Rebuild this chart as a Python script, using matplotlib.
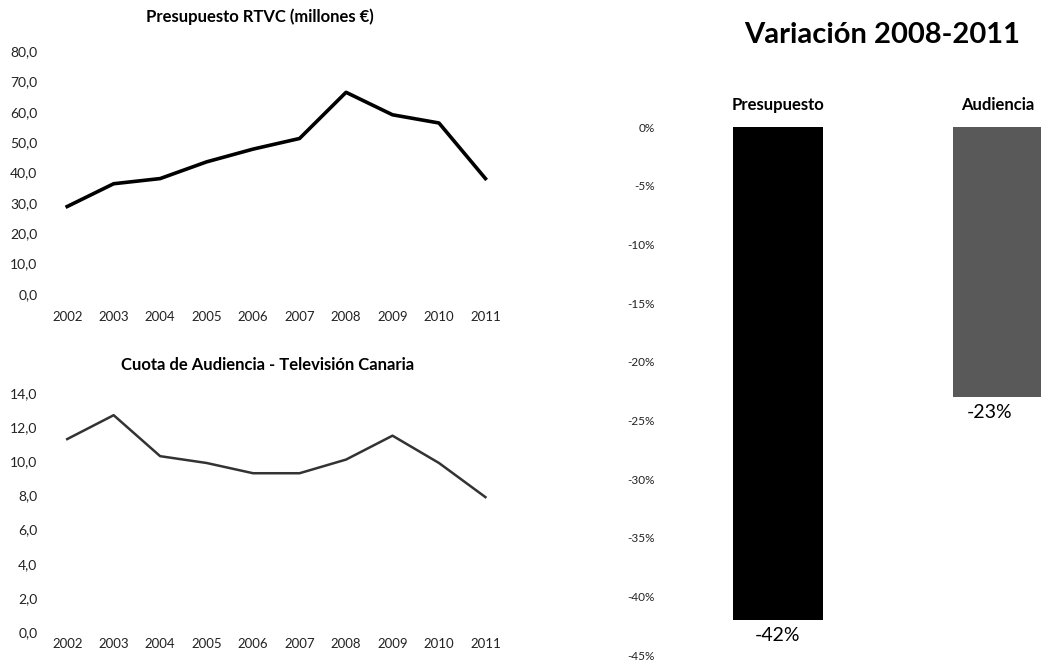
import matplotlib.pyplot as plt

years = ['2002', '2003', '2004', '2005', '2006', '2007', '2008', '2009', '2010', '2011']
presupuesto = [28.8, 36.3, 38.0, 43.5, 47.7, 51.2, 66.4, 59.0, 56.3, 38.0]
audiencia = [11.3, 12.7, 10.3, 9.9, 9.3, 9.3, 10.1, 11.5, 9.9, 7.9]

var_labels = ['Presupuesto', 'Audiencia']
var_values = [-0.42, -0.23]
var_text = ['-42%', '-23%']

plt.rcParams['font.family'] = ['Lato', 'DejaVu Sans']

W, H = 1041, 661
fig = plt.figure(figsize=(W / 100, H / 100), dpi=100)


def box(x0, y0, x1, y1):
    # pixel box (top-left origin) -> figure fraction
    return [x0 / W, 1 - y1 / H, (x1 - x0) / W, (y1 - y0) / H]


def line_panel(rect, values, ymax, lw, color, xpad):
    ax = fig.add_axes(rect)
    x = range(len(years))
    ax.plot(x, values, color=color, linewidth=lw, solid_joinstyle='round')
    ax.set_xlim(-0.37, 9.55)
    ax.set_ylim(0, ymax)
    ax.set_xticks(list(x))
    ax.set_xticklabels(years)
    ticks = list(range(0, int(ymax) + 1, 10 if ymax > 20 else 2))
    ax.set_yticks(ticks)
    ax.set_yticklabels([f'{t:.1f}'.replace('.', ',') for t in ticks])
    ax.tick_params(length=0, labelsize=9.5, colors='#222222')
    ax.tick_params(axis='y', labelsize=10, pad=9)
    ax.tick_params(axis='x', pad=xpad)
    for s in ax.spines.values():
        s.set_visible(False)
    return ax


line_panel(box(50, 51, 511, 294), presupuesto, 80, 2.6, 'black', 12)
line_panel(box(50, 393, 511, 632), audiencia, 14, 1.8, '#333333', 4)
fig.text(260 / W, 1 - 17 / H, 'Presupuesto RTVC (millones €)', ha='center', va='center',
         fontsize=12, fontweight='bold')
fig.text(268 / W, 1 - 365 / H, 'Cuota de Audiencia - Televisión Canaria', ha='center', va='center',
         fontsize=12, fontweight='bold')

# Variation bar panel
ax = fig.add_axes(box(660, 127, 1041, 655))
bar_colors = ['black', '#595959']
xs = range(len(var_labels))
ax.bar(xs, var_values, width=0.41, color=bar_colors)
ax.set_xlim(-0.536, 1.195)
ax.set_ylim(-0.45, 0)
yt = [-0.05 * i for i in range(10)]
ax.set_yticks(yt)
ax.set_yticklabels([f'{round(v * 100)}%' for v in yt])
ax.set_xticks([])
ax.tick_params(length=0, labelsize=8.5, colors='#222222', pad=4)
for s in ax.spines.values():
    s.set_visible(False)
for i, (v, t, lab) in enumerate(zip(var_values, var_text, var_labels)):
    ax.text(i - 0.04 * i, v - 0.006, t, ha='center', va='top', fontsize=14)
    ax.text(i, 0.012, lab, ha='center', va='bottom', fontsize=12, fontweight='bold')
fig.text(882 / W, 1 - 35 / H, 'Variación 2008-2011', ha='center', va='center',
         fontsize=21, fontweight='bold')

fig.savefig('out.png', dpi=100)
